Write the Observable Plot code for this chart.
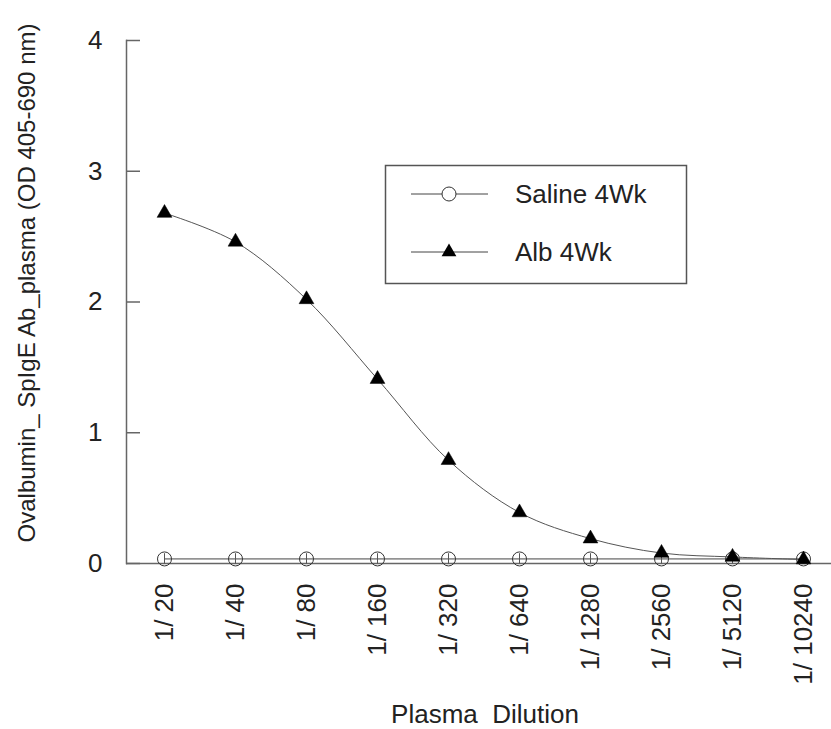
<!DOCTYPE html>
<html><head><meta charset="utf-8">
<script src="https://cdn.jsdelivr.net/npm/d3@7"></script>
<script src="https://cdn.jsdelivr.net/npm/@observablehq/plot@0.6"></script>
<style>
body{margin:0;background:#fff;font-family:"Liberation Sans",Arial,sans-serif}
#chart{position:relative;width:831px;height:729px}
#legend{position:absolute;left:0;top:0;pointer-events:none}
</style></head><body><div id="chart"></div>
<script>
const dilutions = ["1/ 20","1/ 40","1/ 80","1/ 160","1/ 320","1/ 640","1/ 1280","1/ 2560","1/ 5120","1/ 10240"];
const salineValues = [0.035,0.035,0.035,0.035,0.035,0.035,0.035,0.035,0.035,0.035];
const salineErrors = [0.04,0.04,0.04,0.04,0.04,0.04,0.04,0.04,0.04,0.04];
const albValues = [2.68,2.46,2.02,1.41,0.79,0.39,0.19,0.08,0.05,0.03];
const seriesNames = ["Saline 4Wk","Alb 4Wk"];
const yTicks = [0,1,2,3,4];
const xLabel = "Plasma  Dilution";
const yLabel = "Ovalbumin_ SpIgE Ab_plasma (OD 405-690 nm)";

const saline = dilutions.map((d,i)=>({dilution:d, od:salineValues[i], err:salineErrors[i]}));
const alb = dilutions.map((d,i)=>({dilution:d, od:albValues[i]}));
const axisColor = "#666";

const plot = Plot.plot({
  width:831, height:729,
  marginLeft:126, marginRight:0, marginTop:40, marginBottom:166,
  style:{fontFamily:"Liberation Sans, Arial, sans-serif", fontSize:"26px", color:"#222", background:"#fff"},
  x:{type:"point", domain:dilutions, range:[163,804], padding:0},
  y:{domain:[0,4]},
  marks:[
    Plot.axisY(yTicks, {tickSize:0, tickPadding:24, fontSize:26, label:null, tickFormat:d3.format("d")}),
    Plot.axisY(yTicks, {tickSize:-14, text:null, stroke:axisColor, strokeWidth:1.5, label:null}),
    Plot.axisX({tickSize:0, tickRotate:-90, tickPadding:20, fontSize:26, label:null}),
    Plot.text([xLabel], {frameAnchor:"bottom", lineAnchor:"bottom", dy:159, dx:6, fontSize:26}),
    Plot.text([yLabel], {frameAnchor:"left", textAnchor:"middle", rotate:-90, dx:-99, dy:-19, fontSize:24}),
    Plot.ruleY([0], {stroke:axisColor, strokeWidth:1.5}),
    Plot.frame({anchor:"left", stroke:axisColor, strokeWidth:1.5}),
    Plot.lineY(saline, {x:"dilution", y:"od", stroke:"#444", strokeWidth:1}),
    Plot.ruleX(saline, {x:"dilution", y1:d=>d.od-d.err, y2:d=>d.od+d.err, stroke:"#555", strokeWidth:1}),
    Plot.dot(saline, {x:"dilution", y:"od", r:7, fill:"none", stroke:"#333", strokeWidth:1}),
    Plot.lineY(alb, {x:"dilution", y:"od", curve:"catmull-rom", stroke:"#555", strokeWidth:1}),
    Plot.dot(alb, {x:"dilution", y:"od", symbol:"triangle", r:5.5, fill:"#000", stroke:"#000", strokeWidth:0.5})
  ]
});
const chart = document.getElementById("chart");
chart.appendChild(plot);

// legend overlay
const svg = d3.select(chart).append("svg").attr("id","legend").attr("width",831).attr("height",729);
svg.append("rect").attr("x",385.5).attr("y",165.5).attr("width",301).attr("height",118)
  .attr("fill","#fff").attr("stroke","#555").attr("stroke-width",1.5);
const rows = [194, 252];
seriesNames.forEach((name,i)=>{
  const y = rows[i];
  svg.append("line").attr("x1",411).attr("x2",488).attr("y1",y).attr("y2",y).attr("stroke","#444").attr("stroke-width",1);
  if(i===0){
    svg.append("circle").attr("cx",449).attr("cy",y).attr("r",7).attr("fill","#fff").attr("stroke","#333");
  } else {
    svg.append("path").attr("transform",`translate(449,${y})`)
      .attr("d", d3.symbol(d3.symbolTriangle, 5.5*5.5*Math.PI)()).attr("fill","#000");
  }
  svg.append("text").attr("x",515).attr("y",y+9).attr("font-size",26)
    .attr("font-family","Liberation Sans, Arial, sans-serif").attr("fill","#222").text(name);
});
</script></body></html>
